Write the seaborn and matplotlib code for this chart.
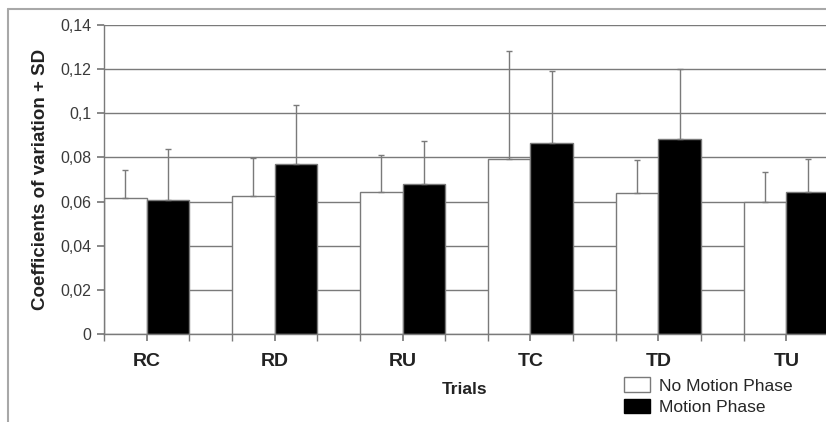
import pandas as pd
import numpy as np
import matplotlib
matplotlib.use("Agg")
import matplotlib.pyplot as plt
from matplotlib.ticker import MultipleLocator
from matplotlib.patches import Patch
import seaborn as sns

sns.set_theme(style="white")
plt.rcParams["font.family"] = ["Liberation Sans", "DejaVu Sans"]

trials = ["RC", "RD", "RU", "TC", "TD", "TU"]
no_motion = [0.0618, 0.0624, 0.0645, 0.0793, 0.0637, 0.0600]
no_motion_sd = [0.0127, 0.0175, 0.0165, 0.0487, 0.0151, 0.0136]
motion = [0.0606, 0.0769, 0.0678, 0.0867, 0.0885, 0.0642]
motion_sd = [0.0234, 0.0269, 0.0196, 0.0323, 0.0315, 0.0151]
phases = ["No Motion Phase", "Motion Phase"]
yticks = [0, 0.02, 0.04, 0.06, 0.08, 0.1, 0.12, 0.14]
ytick_labels = ["0", "0,02", "0,04", "0,06", "0,08", "0,1", "0,12", "0,14"]

df = pd.DataFrame({
    "trial": trials * 2,
    "cv": no_motion + motion,
    "sd": no_motion_sd + motion_sd,
    "phase": [phases[0]] * 6 + [phases[1]] * 6,
})

grey = "#7a7a7a"
fig = plt.figure(figsize=(8.26, 4.22), dpi=100)
ax = fig.add_axes([0.1259, 0.2085, 0.8741, 0.7323])

sns.barplot(data=df, x="trial", y="cv", hue="phase", order=trials,
            hue_order=phases, palette=["white", "black"], width=0.667,
            edgecolor=grey, linewidth=1.0, errorbar=None, ax=ax,
            zorder=2, legend=False)

# upper SD whiskers, placed from the bar patches
for bars, sds in zip(ax.containers, [no_motion_sd, motion_sd]):
    xs = [p.get_x() + p.get_width() / 2 for p in bars]
    hs = [p.get_height() for p in bars]
    ax.errorbar(xs, hs, yerr=[np.zeros(len(sds)), sds], fmt="none",
                ecolor=grey, elinewidth=1.0, capsize=2.5, capthick=1.0,
                zorder=3)

ax.set_ylim(0, 0.14)
ax.set_xlim(-1 / 3, 5.31)
ax.set_yticks(yticks)
ax.set_yticklabels(ytick_labels, fontsize=11.5, color="#3a3a3a")
ax.yaxis.grid(True, color=grey, linewidth=1.0, zorder=0)
ax.set_axisbelow(True)
ax.xaxis.set_minor_locator(MultipleLocator(1 / 3))
ax.tick_params(axis="x", which="both", bottom=True, length=5, color=grey,
               direction="out", pad=9)
ax.tick_params(axis="y", left=True, length=5, color=grey, direction="out",
               pad=4)
for lbl in ax.get_xticklabels():
    lbl.set_fontweight("bold")
    lbl.set_fontsize(14)
    lbl.set_color("#222222")

for s in ["top", "right"]:
    ax.spines[s].set_visible(False)
for s in ["left", "bottom"]:
    ax.spines[s].set_color(grey)
    ax.spines[s].set_linewidth(1.0)

ax.set_xlabel("")
ax.set_ylabel("Coefficients of variation + SD", fontsize=13.5, fontweight="bold",
              color="#222222", labelpad=8)
fig.text(465 / 826, 1 - 390 / 422, "Trials", fontsize=12.5, fontweight="bold",
         color="#222222", ha="center", va="center")

handles = [Patch(facecolor="white", edgecolor=grey, label=phases[0]),
           Patch(facecolor="black", edgecolor="black", label=phases[1])]
fig.legend(handles=handles, loc="upper left",
           bbox_to_anchor=(621 / 826, 1 - 374 / 422),
           frameon=False, fontsize=12.5, handlelength=1.45, handleheight=0.9,
           labelspacing=0.3, handletextpad=0.55, borderpad=0.2,
           borderaxespad=0)

# outer chart frame (cropped on right and bottom)
fig.add_artist(plt.Line2D([8 / 826, 8 / 826], [0, 1 - 9 / 422], color="#a8a8a8",
                          linewidth=1.5, transform=fig.transFigure))
fig.add_artist(plt.Line2D([8 / 826, 1], [1 - 9 / 422, 1 - 9 / 422], color="#a8a8a8",
                          linewidth=1.5, transform=fig.transFigure))

fig.savefig("out.png", dpi=100)
